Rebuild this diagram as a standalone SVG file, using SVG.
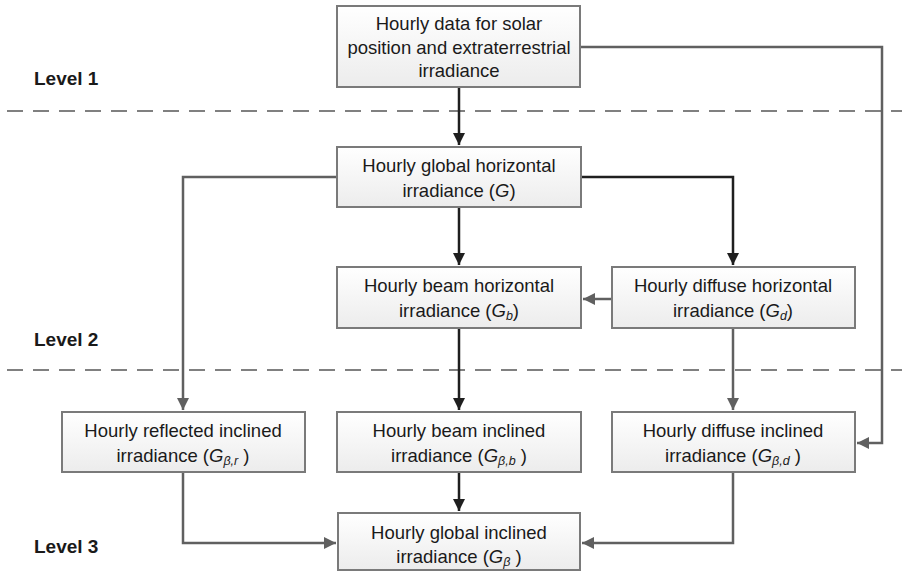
<svg xmlns="http://www.w3.org/2000/svg" width="902" height="572" viewBox="0 0 902 572">
<defs>
<linearGradient id="bg" x1="0" y1="0" x2="0" y2="1">
<stop offset="0" stop-color="#ffffff"/>
<stop offset="1" stop-color="#ececec"/>
</linearGradient>
<marker id="ad" markerUnits="userSpaceOnUse" markerWidth="14" markerHeight="14" refX="12" refY="6" orient="auto">
<path d="M0,0 L12,6 L0,12 Z" fill="#1f1f1f"/>
</marker>
<marker id="ag" markerUnits="userSpaceOnUse" markerWidth="14" markerHeight="14" refX="12" refY="6" orient="auto">
<path d="M0,0 L12,6 L0,12 Z" fill="#606060"/>
</marker>
<style>
.box{fill:url(#bg);stroke:#7a7a7a;stroke-width:2}
.t{font-family:"Liberation Sans",Arial,sans-serif;font-size:18.5px;fill:#1a1a1a;text-anchor:middle}
.i{font-style:italic}
.s{font-style:italic;font-size:12.5px}
.lv{font-family:"Liberation Sans",Arial,sans-serif;font-size:19px;font-weight:bold;fill:#1a1a1a}
.dk{fill:none;stroke:#1f1f1f;stroke-width:2.5;marker-end:url(#ad)}
.gr{fill:none;stroke:#606060;stroke-width:2.5;marker-end:url(#ag)}
.dash{stroke:#808080;stroke-width:2;stroke-dasharray:16,10}
</style>
</defs>
<g id="levels">
<line class="dash" x1="7" y1="111" x2="902" y2="111"/>
<line class="dash" x1="7" y1="370" x2="902" y2="370"/>
<text class="lv" x="34" y="85">Level 1</text>
<text class="lv" x="34" y="346">Level 2</text>
<text class="lv" x="34" y="553">Level 3</text>
</g>
<g id="connectors">
<path class="dk" d="M459,87 L459,145"/>
<path class="gr" d="M580,47 L882,47 L882,443 L857,443"/>
<path class="gr" d="M337,177 L183,177 L183,410"/>
<path class="dk" d="M581,177 L733,177 L733,265"/>
<path class="dk" d="M459,207 L459,265"/>
<path class="gr" d="M612,299 L583,299"/>
<path class="dk" d="M459,328 L459,410"/>
<path class="gr" d="M733,328 L733,410"/>
<path class="dk" d="M459,472 L459,511"/>
<path class="gr" d="M183,472 L183,543 L336,543"/>
<path class="gr" d="M733,472 L733,543 L582,543"/>
</g>
<g id="n-top">
<rect class="box" x="337" y="6" width="243" height="81"/>
<text class="t" x="459" y="30">Hourly data for solar</text>
<text class="t" x="459" y="54">position and extraterrestrial</text>
<text class="t" x="459" y="77">irradiance</text>
</g>
<g id="n-g">
<rect class="box" x="337" y="147" width="244" height="60"/>
<text class="t" x="459" y="172">Hourly global horizontal</text>
<text class="t" x="459" y="197">irradiance (<tspan class="i">G</tspan>)</text>
</g>
<g id="n-gb">
<rect class="box" x="337" y="267" width="244" height="61"/>
<text class="t" x="459" y="292">Hourly beam horizontal</text>
<text class="t" x="459" y="317">irradiance (<tspan class="i">G</tspan><tspan class="s" dy="3">b</tspan><tspan dy="-3">)</tspan></text>
</g>
<g id="n-gd">
<rect class="box" x="612" y="267" width="243" height="61"/>
<text class="t" x="733" y="292">Hourly diffuse horizontal</text>
<text class="t" x="733" y="317">irradiance (<tspan class="i">G</tspan><tspan class="s" dy="3">d</tspan><tspan dy="-3">)</tspan></text>
</g>
<g id="n-gbr">
<rect class="box" x="62" y="412" width="243" height="60"/>
<text class="t" x="183" y="437">Hourly reflected inclined</text>
<text class="t" x="183" y="462">irradiance (<tspan class="i">G</tspan><tspan class="s" dy="3">β,r</tspan><tspan dy="-3"> )</tspan></text>
</g>
<g id="n-gbb">
<rect class="box" x="337" y="412" width="244" height="60"/>
<text class="t" x="459" y="437">Hourly beam inclined</text>
<text class="t" x="459" y="462">irradiance (<tspan class="i">G</tspan><tspan class="s" dy="3">β,b</tspan><tspan dy="-3"> )</tspan></text>
</g>
<g id="n-gbd">
<rect class="box" x="612" y="412" width="243" height="60"/>
<text class="t" x="733" y="437">Hourly diffuse inclined</text>
<text class="t" x="733" y="462">irradiance (<tspan class="i">G</tspan><tspan class="s" dy="3">β,d</tspan><tspan dy="-3"> )</tspan></text>
</g>
<g id="n-gbeta">
<rect class="box" x="338" y="513" width="242" height="57"/>
<text class="t" x="459" y="539">Hourly global inclined</text>
<text class="t" x="459" y="563">irradiance (<tspan class="i">G</tspan><tspan class="s" dy="3">β</tspan><tspan dy="-3"> )</tspan></text>
</g>
</svg>
